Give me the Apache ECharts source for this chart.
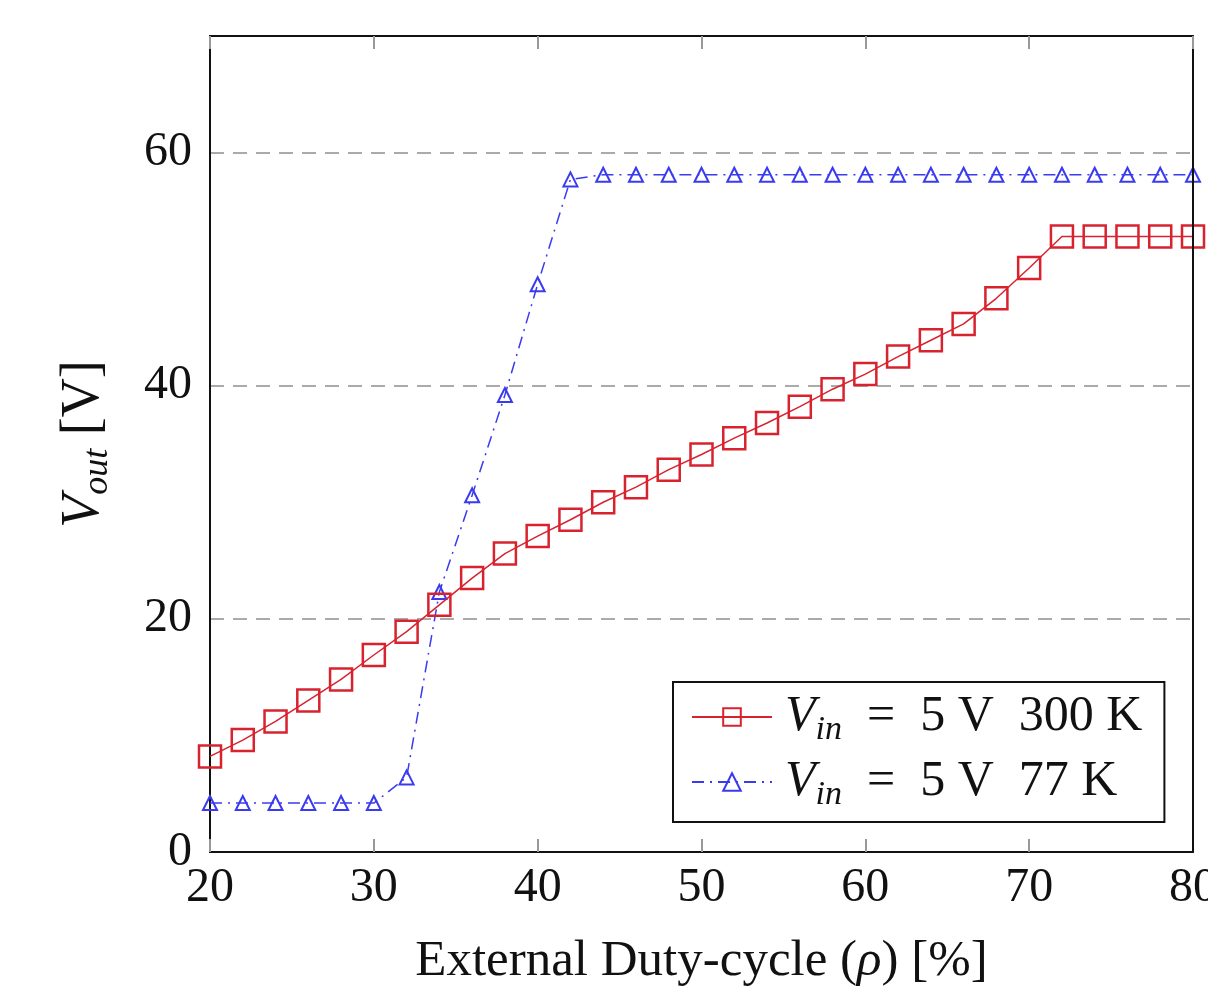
<!DOCTYPE html>
<html>
<head>
<meta charset="utf-8">
<script src="https://cdn.jsdelivr.net/npm/echarts@6/dist/echarts.min.js"></script>
<style>
  html, body { margin: 0; padding: 0; background: #ffffff; }
  #chart { width: 1208px; height: 988px; }
</style>
</head>
<body>
<div id="chart"></div>
<script>
// duty cycle in %
const duty = [20, 22, 24, 26, 28, 30, 32, 34, 36, 38, 40, 42, 44, 46, 48, 50, 52, 54, 56, 58, 60, 62, 64, 66, 68, 70, 72, 74, 76, 78, 80]
const vout300K = [8.2, 9.6, 11.2, 13.0, 14.8, 16.9, 18.9, 21.2, 23.5, 25.6, 27.1, 28.5, 30.0, 31.3, 32.8, 34.1, 35.5, 36.8, 38.2, 39.7, 41.0, 42.5, 43.9, 45.3, 47.5, 50.1, 52.8, 52.8, 52.8, 52.8, 52.8]
const vout77K = [4.2, 4.2, 4.2, 4.2, 4.2, 4.2, 6.4, 22.3, 30.6, 39.2, 48.7, 57.7, 58.1, 58.1, 58.1, 58.1, 58.1, 58.1, 58.1, 58.1, 58.1, 58.1, 58.1, 58.1, 58.1, 58.1, 58.1, 58.1, 58.1, 58.1, 58.1]
const seriesNames = ['300K', '77K']
const legendTemp = { '300K': '300 K', '77K': '77 K' }

const serif = 'Liberation Serif'
const ink = '#111111'
const red = '#d8232f'
const blue = '#3a3af0'

const chart = echarts.init(document.getElementById('chart'))

const pairs = (ys) => duty.map((x, i) => [x, ys[i]])

const tick = { inside: true, length: 13, lineStyle: { color: '#999999', width: 2 } }

chart.setOption({
  backgroundColor: '#ffffff',
  animation: false,
  grid: { left: 210, right: 15, top: 36, bottom: 136, outerBoundsMode: 'none' },
  legend: {
    left: 673,
    top: 682,
    orient: 'vertical',
    backgroundColor: '#ffffff',
    borderColor: ink,
    borderWidth: 2,
    padding: [10, 22, 10, 18],
    itemGap: 10,
    itemWidth: 80,
    itemHeight: 22,
    data: seriesNames,
    formatter: name => '{v|V}{s|in}{t|  =  5 V  ' + legendTemp[name] + '}',
    textStyle: {
      fontFamily: serif,
      color: ink,
      rich: {
        v: { fontFamily: serif, fontStyle: 'italic', fontSize: 50, color: ink, padding: [0, 0, 0, 8] },
        s: { fontFamily: serif, fontStyle: 'italic', fontSize: 34, color: ink, padding: [26, 0, 0, 0] },
        t: { fontFamily: serif, fontSize: 50, color: ink }
      }
    }
  },
  xAxis: [{
    type: 'value',
    min: 20,
    max: 80,
    interval: 10,
    name: '{t|External Duty-cycle (}{i|ρ}{t|) [%]}',
    nameLocation: 'middle',
    nameGap: 84,
    nameTextStyle: {
      rich: {
        t: { fontFamily: serif, fontSize: 51, color: ink },
        i: { fontFamily: serif, fontStyle: 'italic', fontSize: 51, color: ink }
      }
    },
    axisLine: { onZero: false, lineStyle: { color: ink, width: 2 } },
    axisTick: tick,
    axisLabel: { fontFamily: serif, fontSize: 48, color: ink, margin: 12 },
    splitLine: { show: false }
  }, {
    type: 'value',
    position: 'top',
    z: 5,
    min: 20,
    max: 80,
    interval: 10,
    axisLine: { show: true, onZero: false, lineStyle: { color: ink, width: 2 } },
    axisTick: tick,
    axisLabel: { show: false },
    splitLine: { show: false }
  }],
  yAxis: [{
    type: 'value',
    min: 0,
    max: 70,
    interval: 20,
    name: '{v|V}{s|out}{t| [V]}',
    nameLocation: 'middle',
    nameRotate: 90,
    nameGap: 94,
    nameTextStyle: {
      rich: {
        v: { fontFamily: serif, fontStyle: 'italic', fontSize: 54, color: ink },
        s: { fontFamily: serif, fontStyle: 'italic', fontSize: 36, color: ink, padding: [28, 0, 0, 0] },
        t: { fontFamily: serif, fontSize: 54, color: ink }
      }
    },
    axisLine: { show: true, onZero: false, lineStyle: { color: ink, width: 2 } },
    axisTick: { show: false },
    axisLabel: { fontFamily: serif, fontSize: 48, color: ink, margin: 18, showMaxLabel: false },
    splitLine: { show: true, lineStyle: { color: '#aaaaaa', width: 2, type: [14, 9] } }
  }, {
    type: 'value',
    position: 'right',
    z: 5,
    min: 0,
    max: 70,
    interval: 20,
    axisLine: { show: true, onZero: false, lineStyle: { color: ink, width: 2 } },
    axisTick: { show: false },
    axisLabel: { show: false },
    splitLine: { show: false }
  }],
  series: [{
    name: seriesNames[0],
    type: 'line',
    data: pairs(vout300K),
    symbol: 'rect',
    symbolSize: 22,
    showAllSymbol: true,
    clip: false,
    z: 3,
    lineStyle: { color: red, width: 1.5 },
    itemStyle: { color: 'rgba(0,0,0,0)', borderColor: red, borderWidth: 2.5 }
  }, {
    name: seriesNames[1],
    type: 'line',
    data: pairs(vout77K),
    symbol: 'triangle',
    symbolSize: 14,
    showAllSymbol: true,
    clip: false,
    z: 2,
    lineStyle: { color: blue, width: 1.5, type: [12, 6, 2, 6] },
    itemStyle: { color: 'rgba(0,0,0,0)', borderColor: blue, borderWidth: 2 }
  }]
})
</script>
</body>
</html>
